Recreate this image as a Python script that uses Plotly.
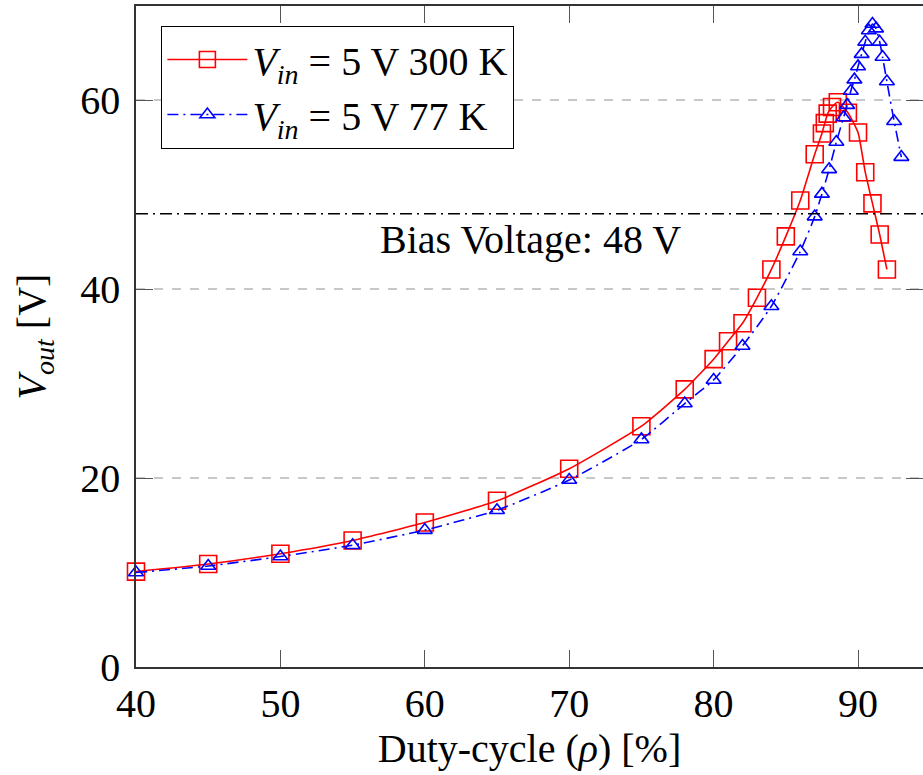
import plotly.graph_objects as go

# ---- data ----
duty_300K = [40, 45, 50, 55, 60, 65, 70, 75, 78, 80, 81, 82, 83, 84, 85, 86, 87,
             87.5, 87.7, 87.9, 88.2, 88.6, 89.3, 90, 90.5, 91, 91.5, 92]
vout_300K = [10.1, 10.9, 12.0, 13.4, 15.3, 17.6, 21.0, 25.5, 29.4, 32.6, 34.5, 36.4, 39.1, 42.1, 45.6, 49.4, 54.3,
             56.5, 57.6, 58.6, 59.3, 59.8, 58.7, 56.6, 52.4, 49.1, 45.8, 42.1]

duty_77K = [40, 45, 50, 55, 60, 65, 70, 75, 78, 80, 82, 84, 86, 87, 87.5, 88, 88.5,
            89, 89.25, 89.5, 89.75, 90, 90.25, 90.5, 90.75, 91, 91.25, 91.5, 91.7, 92, 92.5, 93]
vout_77K = [10.0, 10.7, 11.7, 12.9, 14.5, 16.6, 19.8, 24.1, 27.9, 30.4, 34.0, 38.2, 44.0, 47.7, 50.1, 52.7, 55.6,
            58.2, 59.5, 61.0, 62.2, 63.6, 64.9, 66.2, 67.4, 68.1, 67.6, 66.2, 64.6, 62.0, 57.8, 54.0]

BIAS_V = 48
x_ticks = [40, 50, 60, 70, 80, 90]
y_ticks = [0, 20, 40, 60]
name_300K = "<i>V<sub>in</sub></i> = 5 V 300 K"
name_77K = "<i>V<sub>in</sub></i> = 5 V 77 K"
bias_label = "Bias Voltage: 48 V"

FONT = "Liberation Serif, Times New Roman, serif"

fig = go.Figure()
fig.add_trace(go.Scatter(
    x=duty_300K, y=vout_300K, name=name_300K, mode="lines+markers",
    line=dict(color="#ff0000", width=1.6, shape="spline", smoothing=0.5),
    marker=dict(symbol="square-open", size=17, color="#ff0000", line=dict(width=1.6, color="#ff0000")),
    cliponaxis=False,
))
fig.add_trace(go.Scatter(
    x=duty_77K, y=vout_77K, name=name_77K, mode="lines+markers",
    line=dict(color="#0000ff", width=1.6, dash="11px,5px,2px,5px", shape="spline", smoothing=0.5),
    marker=dict(symbol="triangle-up-open", size=13, color="#0000ff", line=dict(width=1.6, color="#0000ff")),
    cliponaxis=False,
))

fig.add_shape(type="line", xref="paper", x0=0, x1=1, yref="y", y0=BIAS_V, y1=BIAS_V,
              line=dict(color="black", width=1.6, dash="12px,5px,2px,5px"))
fig.add_annotation(x=67.35, y=45.3, text=bias_label, showarrow=False,
                   font=dict(family=FONT, size=40, color="black"))

axis_common = dict(
    showline=True, linecolor="#333333", linewidth=1.5, mirror="ticks",
    ticks="inside", ticklen=17, tickwidth=1, tickcolor="#555555",
    zeroline=False, tickfont=dict(family=FONT, size=40, color="black"),
    automargin=False,
)

fig.update_xaxes(range=[40, 94.5], tickvals=x_ticks, showgrid=False, ticklabelstandoff=0,
                 title=dict(text="Duty-cycle (<i>ρ</i>) [%]", font=dict(family=FONT, size=40, color="black"), standoff=4),
                 **axis_common)
fig.update_yaxes(range=[0, 70], tickvals=y_ticks, showgrid=True, gridcolor="#c8c8c8", gridwidth=1.6, griddash="dash",
                 ticklabelstandoff=6,
                 title=dict(text="<i>V<sub>out</sub></i> [V]", font=dict(family=FONT, size=40, color="black"), standoff=22),
                 **axis_common)

fig.update_layout(
    width=923, height=775,
    margin=dict(l=136, r=0, t=6, b=108),
    plot_bgcolor="white", paper_bgcolor="white",
    font=dict(family=FONT, size=40, color="black"),
    legend=dict(x=0.032, y=0.97, xanchor="left", yanchor="top",
                bgcolor="white", bordercolor="black", borderwidth=1.2,
                font=dict(family=FONT, size=40, color="black"), itemwidth=80,
                tracegroupgap=0),
    showlegend=True,
)

fig.write_html("out.html", config={"displayModeBar": False},
               post_script="document.body.style.margin='0';document.body.style.overflow='hidden';")
